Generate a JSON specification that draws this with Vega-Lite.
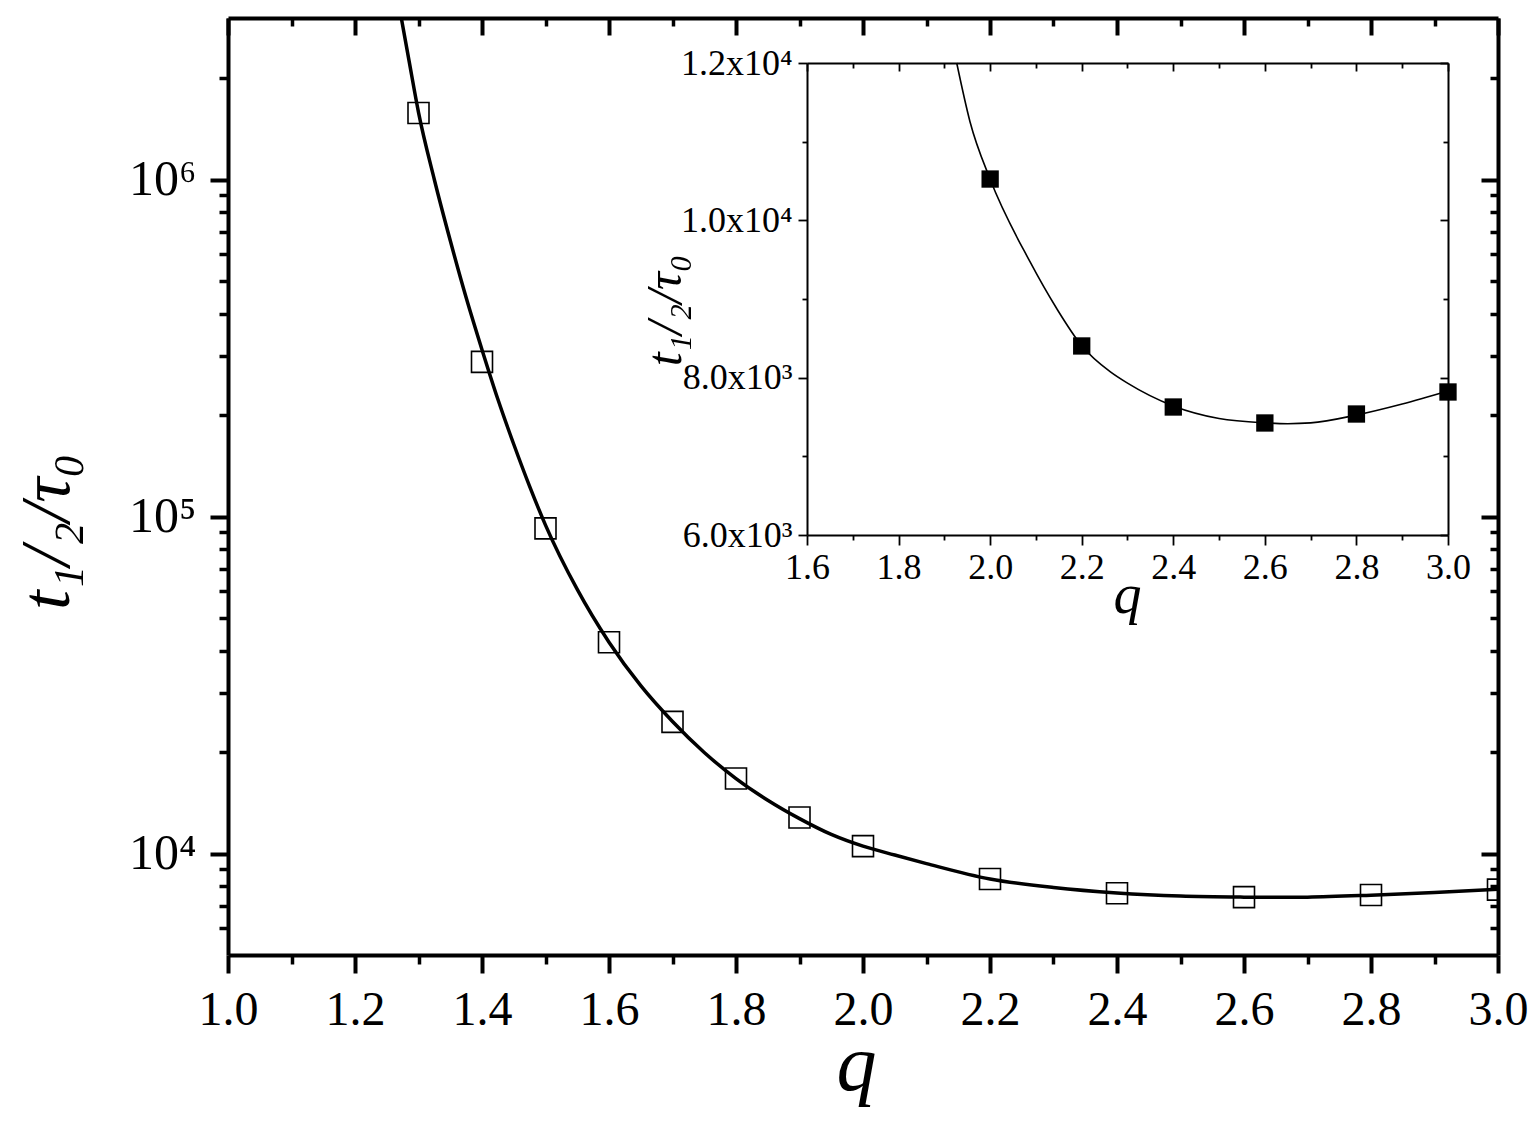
{
  "$schema": "https://vega.github.io/schema/vega-lite/v6.json",
  "width": 1270,
  "height": 937,
  "autosize": {"type": "none"},
  "padding": {"left": 228, "top": 18, "right": 38, "bottom": 170},
  "background": "white",
  "config": {
    "view": {"stroke": null},
    "axis": {"grid": false, "domainColor": "black", "tickColor": "black", "labelColor": "black", "titleColor": "black", "labelFont": "Liberation Serif", "titleFont": "Liberation Serif"}
  },
  "datasets": {
    "main_pts": [
      {"q": 1.3, "t": 1578000}, {"q": 1.4, "t": 288000}, {"q": 1.5, "t": 92300}, {"q": 1.6, "t": 42400},
      {"q": 1.7, "t": 24600}, {"q": 1.8, "t": 16700}, {"q": 1.9, "t": 12790}, {"q": 2.0, "t": 10525},
      {"q": 2.2, "t": 8403}, {"q": 2.4, "t": 7627}, {"q": 2.6, "t": 7424}, {"q": 2.8, "t": 7538}, {"q": 3.0, "t": 7818}
    ],
    "fit": [
      {"q": 1.27, "t": 3240000}, {"q": 1.285, "t": 2260000}, {"q": 1.3, "t": 1585000}, {"q": 1.325, "t": 1000000},
      {"q": 1.35, "t": 660000}, {"q": 1.375, "t": 447000}, {"q": 1.4, "t": 313000}, {"q": 1.425, "t": 223000},
      {"q": 1.45, "t": 164000}, {"q": 1.475, "t": 123000}, {"q": 1.5, "t": 94400}, {"q": 1.55, "t": 60800},
      {"q": 1.6, "t": 42400}, {"q": 1.65, "t": 31500}, {"q": 1.7, "t": 24660}, {"q": 1.75, "t": 19950},
      {"q": 1.8, "t": 16700}, {"q": 1.85, "t": 14400}, {"q": 1.9, "t": 12700}, {"q": 1.95, "t": 11400},
      {"q": 2.0, "t": 10520}, {"q": 2.05, "t": 9900}, {"q": 2.1, "t": 9340}, {"q": 2.2, "t": 8406}, {"q": 2.3, "t": 7930},
      {"q": 2.4, "t": 7640}, {"q": 2.5, "t": 7480}, {"q": 2.6, "t": 7425}, {"q": 2.65, "t": 7415},
      {"q": 2.7, "t": 7425}, {"q": 2.8, "t": 7525}, {"q": 2.9, "t": 7665}, {"q": 3.0, "t": 7830}
    ],
    "inset_pts": [
      {"q": 2.0, "t": 10525}, {"q": 2.2, "t": 8403}, {"q": 2.4, "t": 7627}, {"q": 2.6, "t": 7424}, {"q": 2.8, "t": 7538}, {"q": 3.0, "t": 7818}
    ],
    "inset_fit": [
      {"q": 1.927, "t": 12000}, {"q": 1.956, "t": 11254}, {"q": 2.0, "t": 10522}, {"q": 2.087, "t": 9474},
      {"q": 2.145, "t": 8882}, {"q": 2.2, "t": 8406}, {"q": 2.262, "t": 8076}, {"q": 2.3, "t": 7930},
      {"q": 2.4, "t": 7640}, {"q": 2.5, "t": 7480}, {"q": 2.6, "t": 7425}, {"q": 2.65, "t": 7415},
      {"q": 2.7, "t": 7425}, {"q": 2.8, "t": 7525}, {"q": 2.9, "t": 7665}, {"q": 3.0, "t": 7830}
    ]
  },
  "resolve": {"scale": {"x": "independent", "y": "independent"}},
  "layer": [
    {
      "resolve": {"axis": {"x": "independent", "y": "independent"}},
      "layer": [
        {
          "data": {"name": "main_pts"},
          "mark": {"type": "point", "shape": "square", "size": 441, "filled": false, "stroke": "black", "strokeWidth": 1.6, "opacity": 1, "clip": true},
          "encoding": {
            "x": {"field": "q", "type": "quantitative", "scale": {"domain": [1, 3], "nice": false, "zero": false},
              "axis": {"orient": "bottom", "values": [1.1, 1.3, 1.5, 1.7, 1.9, 2.1, 2.3, 2.5, 2.7, 2.9], "labels": false, "domain": false, "tickSize": 9, "tickWidth": 3.5, "title": null}},
            "y": {"field": "t", "type": "quantitative", "scale": {"type": "log", "domain": [5000, 3020000], "nice": false},
              "axis": {"orient": "left", "values": [6000, 7000, 8000, 9000, 20000, 30000, 40000, 50000, 60000, 70000, 80000, 90000, 200000, 300000, 400000, 500000, 600000, 700000, 800000, 900000, 2000000], "labels": false, "domain": false, "tickSize": 9, "tickWidth": 3.5, "title": null}}
          }
        },
        {
          "data": {"name": "fit"},
          "mark": {"type": "line", "color": "black", "strokeWidth": 3.5, "interpolate": "monotone", "clip": true},
          "encoding": {
            "x": {"field": "q", "type": "quantitative", "scale": {"domain": [1, 3], "nice": false, "zero": false},
              "axis": {"orient": "bottom", "values": [1, 1.2, 1.4, 1.6, 1.8, 2, 2.2, 2.4, 2.6, 2.8, 3], "format": ".1f", "labelFontSize": 48, "labelPadding": 13, "labelFlush": false, "labelOverlap": false, "tickSize": 18, "tickWidth": 4, "domainWidth": 4,
                "title": "q", "titleFontSize": 80, "titleFontStyle": "italic", "titleFontWeight": "normal", "titleX": 628, "titleY": 134, "titleAlign": "center", "titleBaseline": "alphabetic"}},
            "y": {"field": "t", "type": "quantitative", "scale": {"type": "log", "domain": [5000, 3020000], "nice": false},
              "axis": {"orient": "left", "values": [10000, 100000, 1000000], "labelExpr": "datum.value >= 999999 ? '10⁶' : datum.value >= 99999 ? '10⁵' : '10⁴'", "labelFontSize": 50, "labelPadding": 14, "labelFlush": false, "labelOverlap": false, "tickSize": 18, "tickWidth": 4, "domainWidth": 4,
                "title": "t₁/₂/τ₀", "titleFontSize": 70, "titleFontStyle": "italic", "titleFontWeight": "normal", "titleAngle": 270, "titleX": -160, "titleY": 513, "titleAlign": "center", "titleBaseline": "alphabetic"}}
          }
        },
        {
          "data": {"name": "main_pts"},
          "mark": {"type": "point", "opacity": 0},
          "encoding": {
            "x": {"field": "q", "type": "quantitative", "scale": {"domain": [1, 3], "nice": false, "zero": false},
              "axis": {"orient": "top", "values": [1, 1.2, 1.4, 1.6, 1.8, 2, 2.2, 2.4, 2.6, 2.8, 3], "labels": false, "domainWidth": 4, "tickSize": -17, "tickWidth": 4, "title": null}},
            "y": {"field": "t", "type": "quantitative", "scale": {"type": "log", "domain": [5000, 3020000], "nice": false},
              "axis": {"orient": "right", "values": [10000, 100000, 1000000], "labels": false, "domainWidth": 4, "tickSize": -17, "tickWidth": 4, "title": null}}
          }
        },
        {
          "data": {"name": "main_pts"},
          "mark": {"type": "point", "opacity": 0},
          "encoding": {
            "x": {"field": "q", "type": "quantitative", "scale": {"domain": [1, 3], "nice": false, "zero": false},
              "axis": {"orient": "top", "values": [1.1, 1.3, 1.5, 1.7, 1.9, 2.1, 2.3, 2.5, 2.7, 2.9], "labels": false, "domain": false, "tickSize": -8, "tickWidth": 3.5, "title": null}},
            "y": {"field": "t", "type": "quantitative", "scale": {"type": "log", "domain": [5000, 3020000], "nice": false},
              "axis": {"orient": "right", "values": [6000, 7000, 8000, 9000, 20000, 30000, 40000, 50000, 60000, 70000, 80000, 90000, 200000, 300000, 400000, 500000, 600000, 700000, 800000, 900000, 2000000], "labels": false, "domain": false, "tickSize": -8, "tickWidth": 3.5, "title": null}}
          }
        }
      ]
    },
    {
      "resolve": {"axis": {"x": "independent", "y": "independent"}},
      "layer": [
        {
          "data": {"name": "inset_fit"},
          "mark": {"type": "line", "color": "black", "strokeWidth": 1.6, "interpolate": "monotone"},
          "encoding": {
            "x": {"field": "q", "type": "quantitative", "scale": {"domain": [1.6, 3.0], "range": [579, 1220], "nice": false, "zero": false},
              "axis": {"orient": "bottom", "offset": -420, "values": [1.6, 1.8, 2.0, 2.2, 2.4, 2.6, 2.8, 3.0], "format": ".1f", "labelFontSize": 36, "labelPadding": 5, "labelFlush": false, "labelOverlap": false, "tickSize": 10, "tickWidth": 1.8, "domainWidth": 2,
                "title": "q", "titleFontSize": 56, "titleFontStyle": "italic", "titleFontWeight": "normal", "titleX": 899, "titleY": 77, "titleAlign": "center", "titleBaseline": "alphabetic"}},
            "y": {"field": "t", "type": "quantitative", "scale": {"domain": [6000, 12000], "range": [517, 45], "nice": false, "zero": false},
              "axis": {"orient": "left", "offset": -579, "values": [6000, 8000, 10000, 12000], "labelExpr": "datum.value >= 11999 ? '1.2x10⁴' : datum.value >= 9999 ? '1.0x10⁴' : datum.value >= 7999 ? '8.0x10³' : '6.0x10³'", "labelFontSize": 36, "labelPadding": 6, "labelFlush": false, "labelOverlap": false, "tickSize": 9, "tickWidth": 1.8, "domainWidth": 2,
                "title": "t₁/₂/τ₀", "titleFontSize": 50, "titleFontStyle": "italic", "titleFontWeight": "normal", "titleAngle": 270, "titleX": -127, "titleY": 292, "titleAlign": "center", "titleBaseline": "alphabetic"}}
          }
        },
        {
          "data": {"name": "inset_pts"},
          "mark": {"type": "point", "shape": "square", "size": 300, "filled": true, "color": "black", "opacity": 1},
          "encoding": {
            "x": {"field": "q", "type": "quantitative", "scale": {"domain": [1.6, 3.0], "range": [579, 1220], "nice": false, "zero": false},
              "axis": {"orient": "bottom", "offset": -420, "values": [1.7, 1.9, 2.1, 2.3, 2.5, 2.7, 2.9], "labels": false, "domain": false, "tickSize": 5, "tickWidth": 1.8, "title": null}},
            "y": {"field": "t", "type": "quantitative", "scale": {"domain": [6000, 12000], "range": [517, 45], "nice": false, "zero": false},
              "axis": {"orient": "left", "offset": -579, "values": [7000, 9000, 11000], "labels": false, "domain": false, "tickSize": 5, "tickWidth": 1.8, "title": null}}
          }
        },
        {
          "data": {"name": "inset_pts"},
          "mark": {"type": "point", "opacity": 0},
          "encoding": {
            "x": {"field": "q", "type": "quantitative", "scale": {"domain": [1.6, 3.0], "range": [579, 1220], "nice": false, "zero": false},
              "axis": {"orient": "top", "offset": -45, "values": [1.6, 1.8, 2.0, 2.2, 2.4, 2.6, 2.8, 3.0], "labels": false, "domainWidth": 2, "tickSize": -8, "tickWidth": 1.8, "title": null}},
            "y": {"field": "t", "type": "quantitative", "scale": {"domain": [6000, 12000], "range": [517, 45], "nice": false, "zero": false},
              "axis": {"orient": "right", "offset": -50, "values": [6000, 8000, 10000, 12000], "labels": false, "domainWidth": 2, "tickSize": -8, "tickWidth": 1.8, "title": null}}
          }
        },
        {
          "data": {"name": "inset_pts"},
          "mark": {"type": "point", "opacity": 0},
          "encoding": {
            "x": {"field": "q", "type": "quantitative", "scale": {"domain": [1.6, 3.0], "range": [579, 1220], "nice": false, "zero": false},
              "axis": {"orient": "top", "offset": -45, "values": [1.7, 1.9, 2.1, 2.3, 2.5, 2.7, 2.9], "labels": false, "domain": false, "tickSize": -5, "tickWidth": 1.8, "title": null}},
            "y": {"field": "t", "type": "quantitative", "scale": {"domain": [6000, 12000], "range": [517, 45], "nice": false, "zero": false},
              "axis": {"orient": "right", "offset": -50, "values": [7000, 9000, 11000], "labels": false, "domain": false, "tickSize": -5, "tickWidth": 1.8, "title": null}}
          }
        }
      ]
    }
  ]
}
